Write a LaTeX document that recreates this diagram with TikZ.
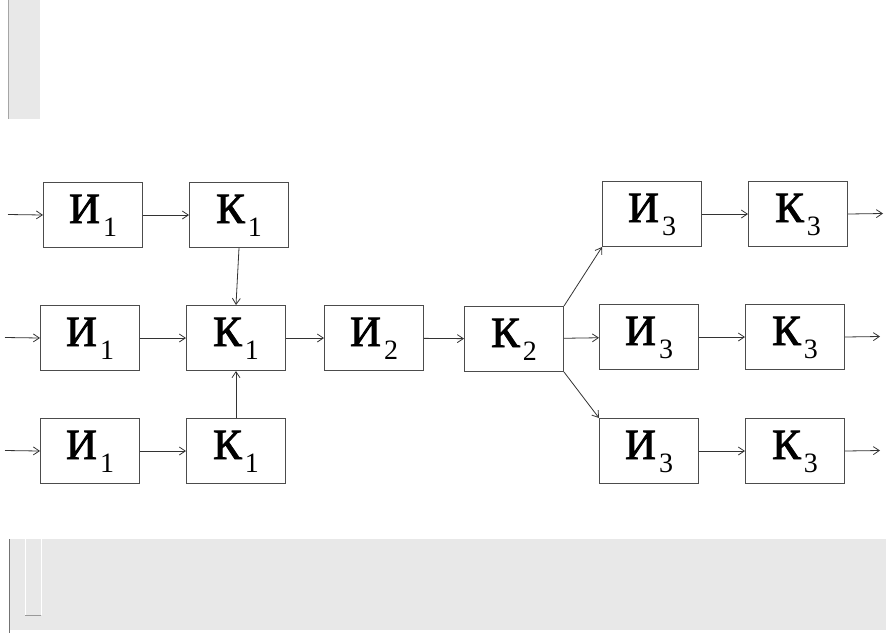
\documentclass[tikz,border=0pt]{standalone}
\usepackage{fontspec}
\setmainfont{Liberation Serif}
\newfontfamily\heavyserif[FakeBold=2]{Liberation Serif}
\usetikzlibrary{arrows.meta}
\tikzset{
  blk/.style={draw=black!70, line width=1pt, minimum width=99pt, minimum height=65pt,
    inner sep=0pt, anchor=north west, text height=29pt, text depth=13pt,
    font=\fontsize{43}{43}\selectfont},
  conn/.style={draw=black!80, line width=0.8pt, -{Straight Barb[length=6pt,width=8pt]}},
  panel/.style={fill=black!9, draw=none},
}
\newcommand{\blab}[2]{{\heavyserif #1}\hspace{3pt}\raisebox{-13pt}{\fontsize{28}{28}\selectfont #2}}
\begin{document}
\begin{tikzpicture}[x=1pt,y=-1pt]
\fill[white] (0,0) rectangle (896,633);
\useasboundingbox (0,0) rectangle (896,633);
% grey panels
\fill[panel] (8,0) rectangle (40,119);
\draw[black!35, line width=0.8pt] (8.5,0) -- (8.5,119);
\fill[panel] (10,539) rectangle (886,630);
\draw[black!55, line width=0.8pt] (9.5,539) -- (9.5,633);
\draw[white, line width=0.8pt] (25,539) -- (25,615) (41,539) -- (41,615);
\draw[black!40, line width=0.8pt] (25,615) -- (41,615);
% blocks
\node[blk] (i1a) at (43,182) {\blab{И}{1}};
\node[blk] (k1a) at (189,182) {\blab{К}{1}};
\node[blk] (i1b) at (40,305) {\blab{И}{1}};
\node[blk] (k1b) at (186,305) {\blab{К}{1}};
\node[blk] (i2) at (324,305) {\blab{И}{2}};
\node[blk] (k2) at (464,306) {\blab{К}{2}};
\node[blk] (i1c) at (40,418) {\blab{И}{1}};
\node[blk] (k1c) at (186,418) {\blab{К}{1}};
\node[blk] (i3a) at (602,181) {\blab{И}{3}};
\node[blk] (k3a) at (748,181) {\blab{К}{3}};
\node[blk] (i3b) at (599,304) {\blab{И}{3}};
\node[blk] (k3b) at (745,304) {\blab{К}{3}};
\node[blk] (i3c) at (599,418) {\blab{И}{3}};
\node[blk] (k3c) at (745,418) {\blab{К}{3}};
% free ends
\coordinate (ina) at (8,214.5);
\coordinate (inb) at (5,337.5);
\coordinate (inc) at (5,450.5);
\coordinate (outa) at (883,213.5);
\coordinate (outb) at (880,336.5);
\coordinate (outc) at (880,450.5);
% connectors
\draw[conn] (ina) -- (i1a.west);
\draw[conn] (inb) -- (i1b.west);
\draw[conn] (inc) -- (i1c.west);
\draw[conn] (i1a) -- (k1a);
\draw[conn] (i1b) -- (k1b);
\draw[conn] (i1c) -- (k1c);
\draw[conn] (k1a.south) -- (k1b.north);
\draw[conn] (k1c.north) -- (k1b.south);
\draw[conn] (k1b) -- (i2);
\draw[conn] (i2) -- (k2);
\draw[conn] (k2.north east) -- (i3a.south west);
\draw[conn] (k2) -- (i3b);
\draw[conn] (k2.south east) -- (i3c.north west);
\draw[conn] (i3a) -- (k3a);
\draw[conn] (i3b) -- (k3b);
\draw[conn] (i3c) -- (k3c);
\draw[conn] (k3a.east) -- (outa);
\draw[conn] (k3b.east) -- (outb);
\draw[conn] (k3c.east) -- (outc);
\end{tikzpicture}
\end{document}
